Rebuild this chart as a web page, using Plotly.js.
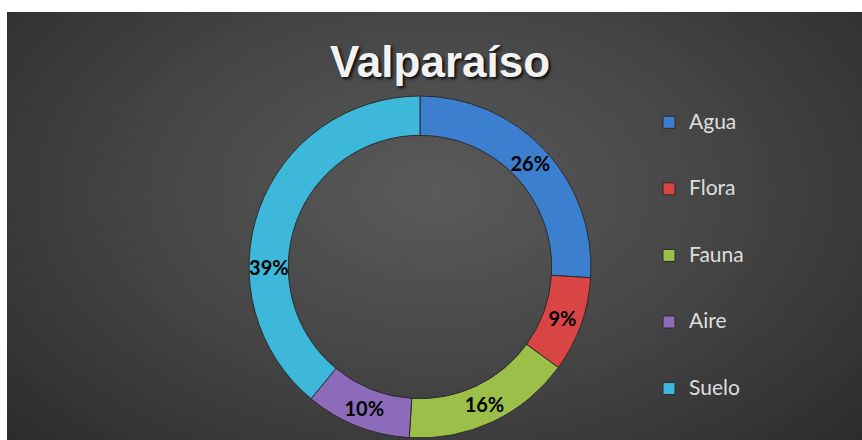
<!DOCTYPE html>
<html>
<head>
<meta charset="utf-8">
<script src="https://cdn.plot.ly/plotly-3.0.1.min.js"></script>
<style>
  html, body { margin: 0; padding: 0; background: #ffffff; width: 862px; height: 440px; overflow: hidden; }
  #chart {
    position: absolute; left: 7px; top: 12px; width: 855px; height: 428px;
    background: radial-gradient(ellipse 75% 95% at 50% 42%, #5a5a5a 0%, #454545 45%, #262626 100%);
  }
</style>
</head>
<body>
<div id="chart"></div>
<script>
// Data
const categories = ['Agua', 'Flora', 'Fauna', 'Aire', 'Suelo'];
const values = [26, 9, 16, 10, 39];
const sliceColors = ['#3d7fcf', '#d94545', '#9cbf4a', '#8c6bbb', '#3db7da'];
const chartTitle = 'Valparaíso';

const NB = '\u00a0';
const legendLabels = categories.map(c => NB + '<br><span style="font-size:21px">' + c + '</span><br>' + NB);

const W = 855, H = 428;
const cx = 413, cy = 255, R = 171;

const trace = {
  type: 'pie',
  labels: legendLabels,
  values: values,
  sort: false,
  direction: 'clockwise',
  rotation: 0,
  hole: 0.77,
  marker: { colors: sliceColors, line: { color: '#2b2b2b', width: 1 } },
  textinfo: 'percent',
  texttemplate: '%{percent:.0%}',
  textposition: 'inside',
  insidetextorientation: 'horizontal',
  textfont: { family: 'Lato, sans-serif', size: 20, color: '#000000', weight: 'bold' },
  domain: { x: [(cx - R) / W, (cx + R) / W], y: [1 - (cy + R) / H, 1 - (cy - R) / H] },
  hoverinfo: 'label+percent'
};

const layout = {
  width: W, height: H,
  margin: { l: 0, r: 0, t: 0, b: 0 },
  paper_bgcolor: 'rgba(0,0,0,0)',
  plot_bgcolor: 'rgba(0,0,0,0)',
  uniformtext: { minsize: 20, mode: 'show' },
  title: {
    text: '<b>' + chartTitle + '</b>',
    x: 433 / W, xanchor: 'center', xref: 'container',
    y: 1 - 50 / H, yanchor: 'middle', yref: 'container',
    font: { family: '"Liberation Sans Narrow", "Liberation Sans", sans-serif', size: 44, color: '#f2f2f2',
            shadow: '2px 2px 3px rgba(0,0,0,0.85)' }
  },
  showlegend: true,
  legend: {
    x: 642 / W, xanchor: 'left',
    y: 1 - 72 / H, yanchor: 'top',
    bgcolor: 'rgba(0,0,0,0)',
    font: { family: 'Lato, sans-serif', size: 16.3, color: '#dedede' },
    traceorder: 'normal'
  }
};

Plotly.newPlot('chart', [trace], layout, { displayModeBar: false, staticPlot: true });
</script>
</body>
</html>
